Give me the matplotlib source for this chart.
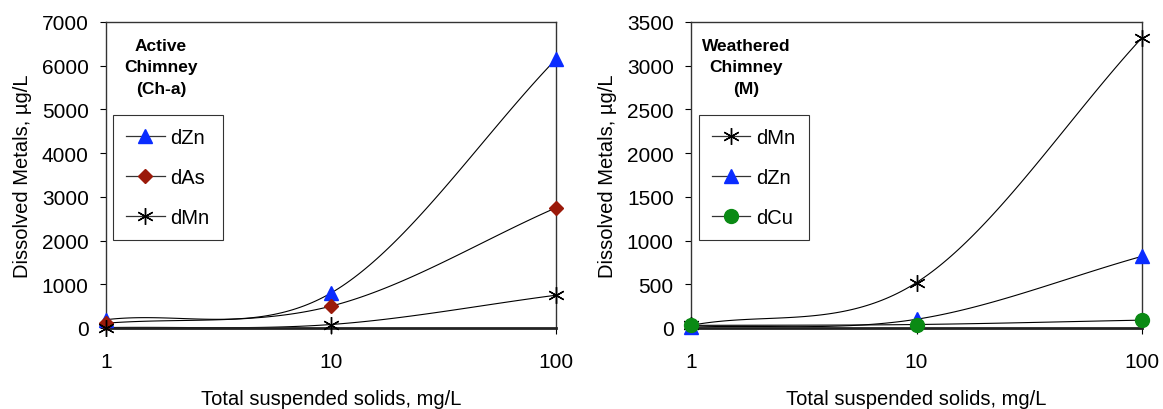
import numpy as np
import matplotlib
matplotlib.use("Agg")
import matplotlib.pyplot as plt
from matplotlib.lines import Line2D

plt.rcParams['font.family'] = ['Liberation Sans', 'DejaVu Sans']

tss = [1, 10, 100]

# Active chimney (Ch-a)
active_zn = [190, 800, 6150]
active_as = [110, 500, 2750]
active_mn = [10, 80, 750]

# Weathered chimney (M)
weath_mn = [30, 520, 3320]
weath_zn = [10, 100, 820]
weath_cu = [30, 40, 90]

x_ticks = [1, 10, 100]


def smooth_curve(xs, ys, ymax, n=60):
    # Excel-style smoothed line: cubic Bezier through the points, worked out in pixel-like space
    u = np.log10(xs) / 2.0 * 450.0
    v = np.asarray(ys, float) / ymax * 306.0
    pts = np.column_stack([u, v])
    out = []
    for i in range(len(pts) - 1):
        p1 = pts[i]
        p2 = pts[i + 1]
        p0 = pts[i - 1] if i > 0 else 2 * p1 - p2
        p3 = pts[i + 2] if i + 2 < len(pts) else 2 * p2 - p1
        c1 = p1 + (p2 - p0) / 6.0
        c2 = p2 - (p3 - p1) / 6.0
        t = np.linspace(0, 1, n)[:, None]
        seg = ((1 - t) ** 3) * p1 + 3 * ((1 - t) ** 2) * t * c1 + 3 * (1 - t) * t ** 2 * c2 + t ** 3 * p2
        out.append(seg)
    seg = np.vstack(out)
    return 10 ** (seg[:, 0] / 450.0 * 2.0), seg[:, 1] / 306.0 * ymax


marker_styles = {
    'dZn': dict(marker='^', color='#0a2cff', ms=10),
    'dAs': dict(marker='D', color='#9b1a0a', ms=7.5),
    'dMn': dict(marker=(6, 2, 0), color='black', ms=12, mew=1.0),
    'dCu': dict(marker='o', color='#0a8a14', ms=10),
}

fig = plt.figure(figsize=(11.63, 4.10), dpi=100)
ax1 = fig.add_axes([106 / 1163, 1 - 329 / 410, 450 / 1163, 306 / 410])
ax2 = fig.add_axes([691 / 1163, 1 - 329 / 410, 451 / 1163, 306 / 410])


def make_handle(name):
    st = marker_styles[name]
    if name == 'dMn':
        return Line2D([], [], color='#333333', lw=0.9, marker=st['marker'], ms=st['ms'],
                      mew=st['mew'], mec='black')
    return Line2D([], [], color='#333333', lw=0.9, marker=st['marker'], mfc=st['color'],
                  mec=st['color'], ms=st['ms'])


def draw_panel(ax, series, ymax, ystep, title, legend_x):
    for name, vals in series:
        sx, sy = smooth_curve(tss, vals, ymax)
        ax.plot(sx, sy, color='black', lw=0.8, zorder=2, clip_on=False)
    for name, vals in series:
        st = marker_styles[name]
        if name == 'dMn':
            ax.plot(tss, vals, linestyle='none', marker=st['marker'], color='black', ms=st['ms'],
                    mew=st['mew'], zorder=3, clip_on=False)
        else:
            ax.plot(tss, vals, linestyle='none', marker=st['marker'], color=st['color'],
                    mec=st['color'], ms=st['ms'], zorder=3, clip_on=False)

    ax.set_xscale('log')
    ax.set_xlim(1, 100)
    ax.set_ylim(0, ymax)
    ax.set_xticks(x_ticks)
    ax.set_xticklabels([str(t) for t in x_ticks])
    ax.xaxis.set_minor_locator(matplotlib.ticker.NullLocator())
    ax.set_yticks(np.arange(0, ymax + 1, ystep))
    ax.tick_params(axis='x', direction='out', length=4, pad=13, labelsize=15, width=0.8)
    ax.tick_params(axis='y', direction='out', length=4.5, pad=8, labelsize=15, width=0.8)
    for side in ['top', 'right', 'left']:
        ax.spines[side].set_linewidth(1.0)
        ax.spines[side].set_color('#333333')
    ax.spines['bottom'].set_linewidth(2.0)
    ax.spines['bottom'].set_color('#222222')
    ax.set_xlabel('Total suspended solids, mg/L', fontsize=14.5, labelpad=13)
    ax.set_ylabel('Dissolved Metals, µg/L', fontsize=14.5, labelpad=7)

    ax.text(0.122, 0.853, title, transform=ax.transAxes, ha='center', va='center',
            fontsize=12.5, fontweight='bold', linespacing=1.55)

    leg = ax.legend([make_handle(n) for n, _ in series], [n for n, _ in series],
                    loc='upper left', bbox_to_anchor=(legend_x, 0.696),
                    fontsize=14.5, frameon=True, fancybox=False, edgecolor='black',
                    labelspacing=1.05, handlelength=1.9, handletextpad=0.3,
                    borderpad=0.65, borderaxespad=0)
    leg.get_frame().set_linewidth(0.8)


draw_panel(ax1, [('dZn', active_zn), ('dAs', active_as), ('dMn', active_mn)],
           7000, 1000, 'Active\nChimney\n(Ch-a)', 0.016)
draw_panel(ax2, [('dMn', weath_mn), ('dZn', weath_zn), ('dCu', weath_cu)],
           3500, 500, 'Weathered\nChimney\n(M)', 0.018)

fig.savefig('out.png', dpi=100)
